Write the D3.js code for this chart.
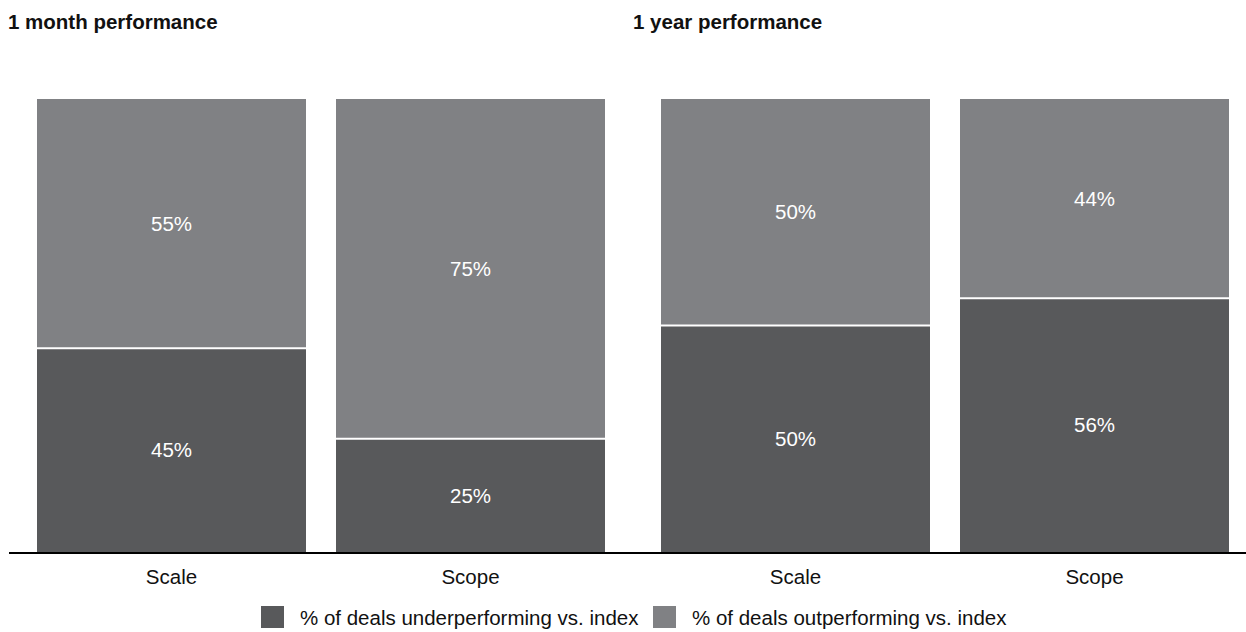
<!DOCTYPE html>
<html>
<head>
<meta charset="utf-8">
<script src="https://cdn.jsdelivr.net/npm/d3@7/dist/d3.min.js"></script>
<style>
  body { margin: 0; background: #fff; }
  svg { display: block; font-family: "Liberation Sans", Arial, sans-serif; }
</style>
</head>
<body>
<svg id="chart" width="1246" height="632"></svg>
<script>
// Panels and deal types
const panels = ["1 month performance", "1 year performance"];
const dealTypes = ["Scale", "Scope"];
// Share of deals (%) per panel, in dealTypes order
const underperforming = [[45, 25], [50, 56]];
const outperforming = [[55, 75], [50, 44]];
const seriesNames = ["% of deals underperforming vs. index", "% of deals outperforming vs. index"];

const colors = ["#58595b", "#808184"];
const FS = 20.5;

const svg = d3.select("#chart");
const W = 1246;

const x0 = d3.scaleBand().domain(panels).range([37, 1229]).paddingInner(56 / 624);
const x1 = d3.scaleBand().domain(dealTypes).range([0, x0.bandwidth()]).paddingInner(30 / 299);
const y = d3.scaleLinear().domain([0, 100]).range([552, 99]);

// Panel titles
svg.selectAll("text.title").data(panels).join("text")
  .attr("class", "title")
  .attr("x", (d, i) => i === 0 ? 8 : 633)
  .attr("y", 29)
  .attr("font-size", FS)
  .attr("font-weight", "bold")
  .attr("fill", "#111")
  .text(d => d);

// Stack per bar
const bars = [];
panels.forEach((p, pi) => {
  dealTypes.forEach((t, ti) => {
    const u = underperforming[pi][ti], o = outperforming[pi][ti];
    bars.push({ panel: p, type: t, segs: [
      { s: 0, y0: 0, y1: u, v: u },
      { s: 1, y0: u, y1: u + o, v: o }
    ]});
  });
});

const g = svg.selectAll("g.bar").data(bars).join("g")
  .attr("class", "bar")
  .attr("transform", d => `translate(${x0(d.panel) + x1(d.type)},0)`);

g.selectAll("rect").data(d => d.segs).join("rect")
  .attr("x", 0)
  .attr("width", x1.bandwidth())
  .attr("y", d => y(d.y1))
  .attr("height", d => y(d.y0) - y(d.y1))
  .attr("fill", d => colors[d.s]);

// White divider between the two segments
g.append("line")
  .attr("x1", 0).attr("x2", x1.bandwidth())
  .attr("y1", d => y(d.segs[0].y1)).attr("y2", d => y(d.segs[0].y1))
  .attr("stroke", "#fff").attr("stroke-width", 2);

g.selectAll("text.val").data(d => d.segs).join("text")
  .attr("class", "val")
  .attr("x", x1.bandwidth() / 2)
  .attr("y", d => (y(d.y0) + y(d.y1)) / 2)
  .attr("dy", "0.35em")
  .attr("text-anchor", "middle")
  .attr("font-size", FS)
  .attr("fill", "#fff")
  .text(d => d.v + "%");

// Baseline
svg.append("line")
  .attr("x1", 9).attr("x2", W)
  .attr("y1", y(0) + 1).attr("y2", y(0) + 1)
  .attr("stroke", "#000").attr("stroke-width", 2);

// Category labels
svg.selectAll("text.cat").data(bars).join("text")
  .attr("class", "cat")
  .attr("x", d => x0(d.panel) + x1(d.type) + x1.bandwidth() / 2)
  .attr("y", 577)
  .attr("dy", "0.35em")
  .attr("text-anchor", "middle")
  .attr("font-size", FS)
  .attr("fill", "#111")
  .text(d => d.type);

// Legend
const legendX = [261, 653];
const lg = svg.selectAll("g.legend").data(seriesNames).join("g")
  .attr("class", "legend")
  .attr("transform", (d, i) => `translate(${legendX[i]},606)`);
lg.append("rect").attr("width", 23).attr("height", 22).attr("fill", (d, i) => colors[i]);
lg.append("text")
  .attr("x", 39).attr("y", 12).attr("dy", "0.35em")
  .attr("font-size", FS).attr("fill", "#111")
  .text(d => d);
</script>
</body>
</html>
